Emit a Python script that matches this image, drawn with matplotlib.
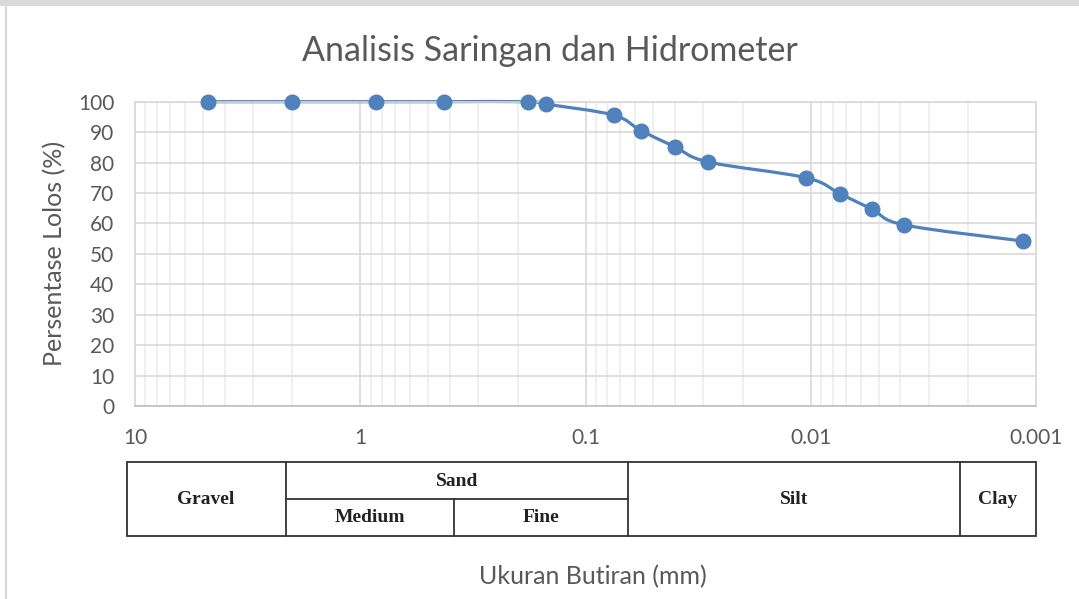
import numpy as np
import matplotlib
matplotlib.use("Agg")
import matplotlib.pyplot as plt
from matplotlib.path import Path
from matplotlib.patches import PathPatch, Rectangle
from matplotlib.lines import Line2D

# grain size (mm) and percent passing
size_mm = [4.75, 2.0, 0.85, 0.425, 0.18, 0.15, 0.075,
           0.0568, 0.0401, 0.0286, 0.01047, 0.00745, 0.00532, 0.00385, 0.00114]
passing = [100, 100, 100, 100, 100, 99.2, 95.6,
           90.5, 85.2, 80.2, 75.0, 69.8, 64.6, 59.5, 54.2]

x_ticks = [10, 1, 0.1, 0.01, 0.001]
x_tick_labels = ["10", "1", "0.1", "0.01", "0.001"]
y_ticks = list(range(0, 101, 10))

title = "Analisis Saringan dan Hidrometer"
xlabel = "Ukuran Butiran (mm)"
ylabel = "Persentase Lolos (%)"

# soil classification table under the chart (pixel layout of the overlay)
table_cells = [("Gravel", 206, 499), ("Sand", 457, 481), ("Medium", 370, 518),
               ("Fine", 541, 518), ("Silt", 794, 499), ("Clay", 998, 500)]

BLUE = "#4f81bd"
GRID = "#d9d9d9"
MINOR = "#eeeeee"
TXT = "#595959"
SANS = ["Lato", "DejaVu Sans"]

W, H = 1079, 599
fig = plt.figure(figsize=(W / 100, H / 100), dpi=100)

ax = fig.add_axes([135 / W, 1 - 406 / H, 901 / W, 304.3 / H])
ax.set_xscale("log")
ax.set_xlim(10, 0.001)
ax.set_ylim(0, 100)
ax.set_xticks(x_ticks)
ax.set_xticklabels(x_tick_labels)
ax.set_yticks(y_ticks)
ax.xaxis.set_minor_locator(matplotlib.ticker.LogLocator(base=10, subs=np.arange(2, 10)))
ax.xaxis.set_minor_formatter(matplotlib.ticker.NullFormatter())
ax.grid(True, which="major", color=GRID, lw=1.2, zorder=0)
ax.grid(True, which="minor", axis="x", color=MINOR, lw=1.2, zorder=0)
ax.set_axisbelow(True)
ax.tick_params(which="both", length=0)
ax.tick_params(axis="x", pad=16, labelsize=15, labelcolor=TXT)
ax.tick_params(axis="y", pad=15, labelsize=15, labelcolor=TXT)
for lab in ax.get_xticklabels() + ax.get_yticklabels():
    lab.set_family(SANS)
for s in ax.spines.values():
    s.set_color(GRID)
    s.set_linewidth(1.2)
ax.spines["bottom"].set_color("#bfbfbf")

# smooth line (Excel style) as bezier segments in log-x space
u = np.log10(size_mm)
v = np.array(passing, dtype=float)
pts = np.column_stack([u, v])
ext = np.vstack([pts[0], pts, pts[-1]])
verts = [pts[0]]
codes = [Path.MOVETO]
for i in range(len(pts) - 1):
    p0, p1, p2, p3 = ext[i], ext[i + 1], ext[i + 2], ext[i + 3]
    c1 = p1 + (p2 - p0) / 6
    c2 = p2 - (p3 - p1) / 6
    verts += [c1, c2, p2]
    codes += [Path.CURVE4] * 3
verts = np.array(verts)
verts[:, 0] = 10 ** verts[:, 0]
ax.add_patch(PathPatch(Path(verts, codes), facecolor="none", edgecolor=BLUE,
                       lw=2.3, zorder=2, clip_on=False, capstyle="round"))
ax.plot(size_mm, passing, "o", color=BLUE, ms=10.5, zorder=3, clip_on=False)

fig.text(550 / W, 1 - 51 / H, title, ha="center", va="center",
         fontsize=24.5, color=TXT, family=SANS)
fig.text(55 / W, 1 - 253 / H, ylabel, ha="center", va="center", rotation=90,
         fontsize=18, color=TXT, family=SANS)
fig.text(593 / W, 1 - 577 / H, xlabel, ha="center", va="center",
         fontsize=18, color=TXT, family=SANS)

# overlay in pixel units for the frame and the table
ov = fig.add_axes([0, 0, 1, 1], zorder=5)
ov.set_xlim(0, W)
ov.set_ylim(H, 0)
ov.axis("off")
ov.patch.set_alpha(0)
ov.add_patch(Rectangle((0, 0), W, 6, color="#d9d9d9", lw=0))
ov.add_line(Line2D([6, 6], [6, H], color="#d9d9d9", lw=1.6))

tc = "#333333"
tl = 1.3
ov.add_patch(Rectangle((127, 462), 1036 - 127, 536 - 462, fill=False, ec=tc, lw=tl))
for xv in [286, 628, 960]:
    ov.add_line(Line2D([xv, xv], [462, 536], color=tc, lw=tl))
ov.add_line(Line2D([286, 628], [499, 499], color=tc, lw=tl))
ov.add_line(Line2D([454, 454], [499, 536], color=tc, lw=tl))
for name, tx, ty in table_cells:
    ov.text(tx, ty, name, ha="center", va="center", fontsize=14,
            family="Liberation Serif", weight="bold", color="#222222")

fig.savefig("out.png", dpi=100)
